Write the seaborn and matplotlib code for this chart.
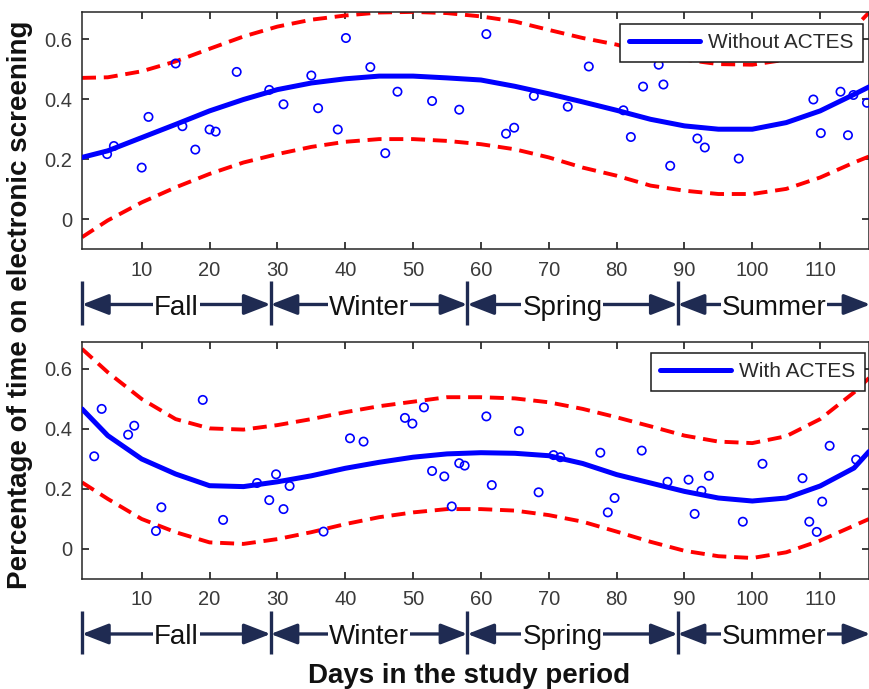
import numpy as np
import pandas as pd
import matplotlib
matplotlib.use("Agg")
import matplotlib.pyplot as plt
import matplotlib.transforms as mtransforms
import seaborn as sns

# ---------------- data ----------------
# Top panel: Without ACTES
days_without = [4.9, 5.9, 10.0, 11.0, 15.0, 16.0, 17.9, 20.0, 20.9, 24.0, 28.8, 30.9,
                35.0, 36.0, 38.9, 40.1, 43.7, 45.9, 47.7, 52.8, 56.8,
                60.8, 63.7, 64.9, 67.8, 72.8, 75.9, 81.0, 82.1, 83.9, 86.2, 86.9, 87.9,
                91.9, 93.0, 98.0, 109.0, 110.1, 113.0, 114.1, 114.9, 116.9]
vals_without = [0.218, 0.245, 0.173, 0.342, 0.520, 0.311, 0.233, 0.300, 0.293, 0.492, 0.432, 0.384,
                0.480, 0.371, 0.300, 0.605, 0.508, 0.221, 0.426, 0.395, 0.366,
                0.618, 0.286, 0.306, 0.412, 0.376, 0.510, 0.364, 0.275, 0.443, 0.516, 0.450, 0.179,
                0.270, 0.240, 0.203, 0.400, 0.288, 0.426, 0.281, 0.415, 0.389]

# Bottom panel: With ACTES
days_with = [3.0, 4.1, 8.0, 8.9, 12.1, 12.9, 19.0, 22.0, 27.0, 28.8, 29.8, 30.9, 31.8,
             36.8, 40.7, 42.7, 48.8, 49.9, 51.6, 52.8, 54.6, 55.7, 56.8, 57.6,
             60.8, 61.6, 65.6, 68.5, 70.7, 71.7, 77.6, 78.7, 79.7, 83.7, 87.5,
             90.6, 91.5, 92.5, 93.6, 98.6, 101.5, 107.4, 108.4, 109.5, 110.3, 111.4, 115.3]
vals_with = [0.309, 0.467, 0.381, 0.411, 0.060, 0.139, 0.497, 0.097, 0.220, 0.163, 0.249, 0.133, 0.210,
             0.058, 0.369, 0.358, 0.437, 0.418, 0.472, 0.260, 0.242, 0.142, 0.286, 0.278,
             0.442, 0.213, 0.393, 0.189, 0.313, 0.306, 0.321, 0.122, 0.170, 0.328, 0.224,
             0.231, 0.117, 0.194, 0.244, 0.091, 0.284, 0.236, 0.091, 0.057, 0.158, 0.344, 0.298]

# Fitted curves and prediction bands (read at these days)
curve_days = [1.2, 5, 10, 15, 20, 25, 30, 35, 40, 45, 50, 55, 60,
              65, 70, 75, 80, 85, 90, 95, 100, 105, 110, 115, 117.2]

fit_without = [0.207, 0.229, 0.273, 0.317, 0.362, 0.400, 0.433, 0.455, 0.469, 0.478, 0.478, 0.472, 0.465,
               0.444, 0.419, 0.392, 0.364, 0.334, 0.312, 0.301, 0.301, 0.323, 0.362, 0.417, 0.442]
upper_without = [0.472, 0.474, 0.494, 0.527, 0.569, 0.610, 0.643, 0.666, 0.680, 0.690, 0.692, 0.688, 0.677,
                 0.660, 0.632, 0.605, 0.583, 0.550, 0.533, 0.518, 0.516, 0.533, 0.571, 0.638, 0.690]
lower_without = [-0.059, -0.003, 0.057, 0.107, 0.152, 0.190, 0.218, 0.242, 0.259, 0.268, 0.268, 0.262, 0.251,
                 0.234, 0.207, 0.173, 0.146, 0.113, 0.096, 0.085, 0.085, 0.102, 0.140, 0.190, 0.210]

fit_with = [0.467, 0.378, 0.300, 0.250, 0.211, 0.208, 0.224, 0.244, 0.269, 0.289, 0.306, 0.317, 0.321,
            0.319, 0.311, 0.285, 0.248, 0.220, 0.192, 0.170, 0.160, 0.170, 0.210, 0.270, 0.325]
upper_with = [0.667, 0.589, 0.500, 0.433, 0.402, 0.398, 0.413, 0.433, 0.456, 0.476, 0.491, 0.506, 0.506,
              0.502, 0.489, 0.467, 0.439, 0.409, 0.378, 0.358, 0.353, 0.376, 0.433, 0.522, 0.570]
lower_with = [0.222, 0.167, 0.100, 0.056, 0.022, 0.017, 0.033, 0.056, 0.083, 0.106, 0.122, 0.133, 0.133,
              0.128, 0.113, 0.091, 0.058, 0.024, -0.006, -0.024, -0.030, -0.011, 0.028, 0.078, 0.100]

x_ticks = [10, 20, 30, 40, 50, 60, 70, 80, 90, 100, 110]
y_ticks = [0, 0.2, 0.4, 0.6]
y_tick_labels = ["0", "0.2", "0.4", "0.6"]

season_names = ["Fall", "Winter", "Spring", "Summer"]
season_bounds = [1.2, 29, 58, 89, 117.4]
season_label_x = [15.1, 43.5, 72.0, 103.2]

legend_labels = ["Without ACTES", "With ACTES"]

# ---------------- style ----------------
sns.set_theme(style="ticks")
plt.rcParams["font.family"] = ["Liberation Sans", "DejaVu Sans"]
plt.rcParams.update({
    "xtick.direction": "in", "ytick.direction": "in",
    "xtick.top": True, "ytick.right": True,
    "xtick.major.size": 5, "ytick.major.size": 5,
    "axes.edgecolor": "#262626", "axes.linewidth": 1.1,
    "xtick.color": "#262626", "ytick.color": "#262626",
})

W, H = 870, 689
fig = plt.figure(figsize=(W / 100, H / 100), dpi=100)

def frac_box(left, top, right, bottom):
    return [left / W, 1 - bottom / H, (right - left) / W, (bottom - top) / H]

ax_top = fig.add_axes(frac_box(82, 12.5, 869, 249.5))
ax_bot = fig.add_axes(frac_box(82, 342, 869, 579))

BLUE = "#0000ff"
RED = "#ff0000"
NAVY = "#1f2b52"

panels = [
    (ax_top, days_without, vals_without, fit_without, upper_without, lower_without, legend_labels[0],
     (0.9924, 0.9514)),
    (ax_bot, days_with, vals_with, fit_with, upper_with, lower_with, legend_labels[1],
     (0.995, 0.9536)),
]

for ax, dx, vy, fit, up, lo, lab, anchor in panels:
    pts = pd.DataFrame({"day": dx, "value": vy})
    cur = pd.DataFrame({"day": curve_days, "fit": fit, "upper": up, "lower": lo})

    sns.lineplot(data=cur, x="day", y="upper", ax=ax, color=RED, lw=2.8,
                 linestyle=(0, (3.6, 2.0)), legend=False, zorder=2)
    sns.lineplot(data=cur, x="day", y="lower", ax=ax, color=RED, lw=2.8,
                 linestyle=(0, (3.6, 2.0)), legend=False, zorder=2)
    sns.scatterplot(data=pts, x="day", y="value", ax=ax, marker="o", s=36,
                    facecolors="none", edgecolor=BLUE, linewidth=1.2, legend=False, zorder=3)
    sns.lineplot(data=cur, x="day", y="fit", ax=ax, color=BLUE, lw=3.6, label=lab, zorder=4)

    ax.set_xlim(1.2, 117.2)
    ax.set_ylim(-0.1, 0.69)
    ax.set_xticks(x_ticks)
    ax.set_xticklabels([str(t) for t in x_ticks])
    ax.set_yticks(y_ticks)
    ax.set_yticklabels(y_tick_labels)
    ax.tick_params(axis="x", labelsize=14.5, pad=8, labelcolor="#3a3a3a")
    ax.tick_params(axis="y", labelsize=14.5, pad=7, labelcolor="#3a3a3a")
    ax.set_xlabel("")
    ax.set_ylabel("")
    for s in ax.spines.values():
        s.set_visible(True)

    leg = ax.legend(loc="upper right", bbox_to_anchor=anchor, borderaxespad=0,
                    fancybox=False, framealpha=1, edgecolor="#1a1a1a",
                    fontsize=15, handlelength=3.4, handletextpad=0.4,
                    borderpad=0.45)
    leg.get_frame().set_linewidth(1.1)
    for t in leg.get_texts():
        t.set_color("#2a2a2a")

    # season annotation band below each panel
    trans = mtransforms.blended_transform_factory(ax.transData, ax.transAxes)
    y_arrow = -0.232
    for b in season_bounds[:-1]:
        ax.plot([b, b], [-0.135, -0.318], transform=trans, color=NAVY, lw=2.4,
                clip_on=False, solid_capstyle="butt")
    for i, name in enumerate(season_names):
        x0, x1 = season_bounds[i], season_bounds[i + 1]
        ax.annotate("", xy=(x1, y_arrow), xytext=(x0, y_arrow), xycoords=trans, textcoords=trans,
                    arrowprops=dict(arrowstyle="<|-|>,head_length=0.9,head_width=0.35",
                                    color=NAVY, lw=2.4, shrinkA=0, shrinkB=0,
                                    mutation_scale=18),
                    annotation_clip=False)
        ax.text(season_label_x[i], y_arrow - 0.044, name, transform=trans, ha="center",
                va="baseline", fontsize=20, color="#111111", zorder=10,
                bbox=dict(facecolor="white", edgecolor="none", pad=0.6))

fig.text(0.023, 0.557, "Percentage of time on electronic screening", rotation=90,
         ha="center", va="center", fontsize=20, fontweight="bold", color="#111111")
fig.text(0.539, 0.009, "Days in the study period", ha="center", va="baseline",
         fontsize=20, fontweight="bold", color="#111111")

fig.savefig("out.png", dpi=100)
